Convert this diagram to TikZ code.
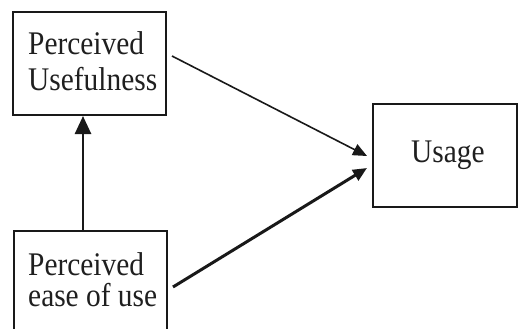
\documentclass[tikz,border=0pt]{standalone}
\usepackage{graphicx}
\usepackage{fontspec}
\setmainfont{Liberation Serif}
\usetikzlibrary{arrows.meta}
\newcommand{\tallt}[1]{\scalebox{0.98}[1.1]{#1}}
\begin{document}
\begin{tikzpicture}[x=1pt,y=-1pt,
  box/.style={draw=black!90, line width=2pt, rectangle, minimum width=153pt, minimum height=103pt, inner sep=0pt},
  txt/.style={anchor=base west, inner sep=0pt, font=\fontsize{30}{34}\selectfont, text=black!88},
  arr/.style={-{Triangle[length=14pt,width=12pt]}, line width=#1, draw=black!90, fill=black!90},
]
\useasboundingbox (0,0) rectangle (519,329);
\node[box] (pu) at (89.5,63.5) {};
\node[box, minimum height=101pt] (pe) at (90.5,281) {};
\node[box, minimum width=144pt] (us) at (445,155.5) {};
\node[txt] (t1) at (28,55) {\tallt{Perceived}};
\node[txt] (t2) at (28,90) {\tallt{Usefulness}};
\node[txt] (t3) at (28,275) {\tallt{Perceived}};
\node[txt] (t4) at (28,306) {\tallt{ease of use}};
\node[txt] (t5) at (411,162) {\tallt{Usage}};
\draw[arr=1.6pt] ([shift={(5,-7.5)}]pu.east) -- ([shift={(-5,0.5)}]us.west);
\draw[arr=3pt] ([shift={(5,6)}]pe.east) -- ([shift={(-5,12.5)}]us.west);
\draw[-{Triangle[length=18pt,width=16pt]}, line width=2.6pt, draw=black!90, fill=black!90] ([xshift=-7.5pt]pe.north) -- ([xshift=-6.5pt]pu.south);
\end{tikzpicture}
\end{document}
